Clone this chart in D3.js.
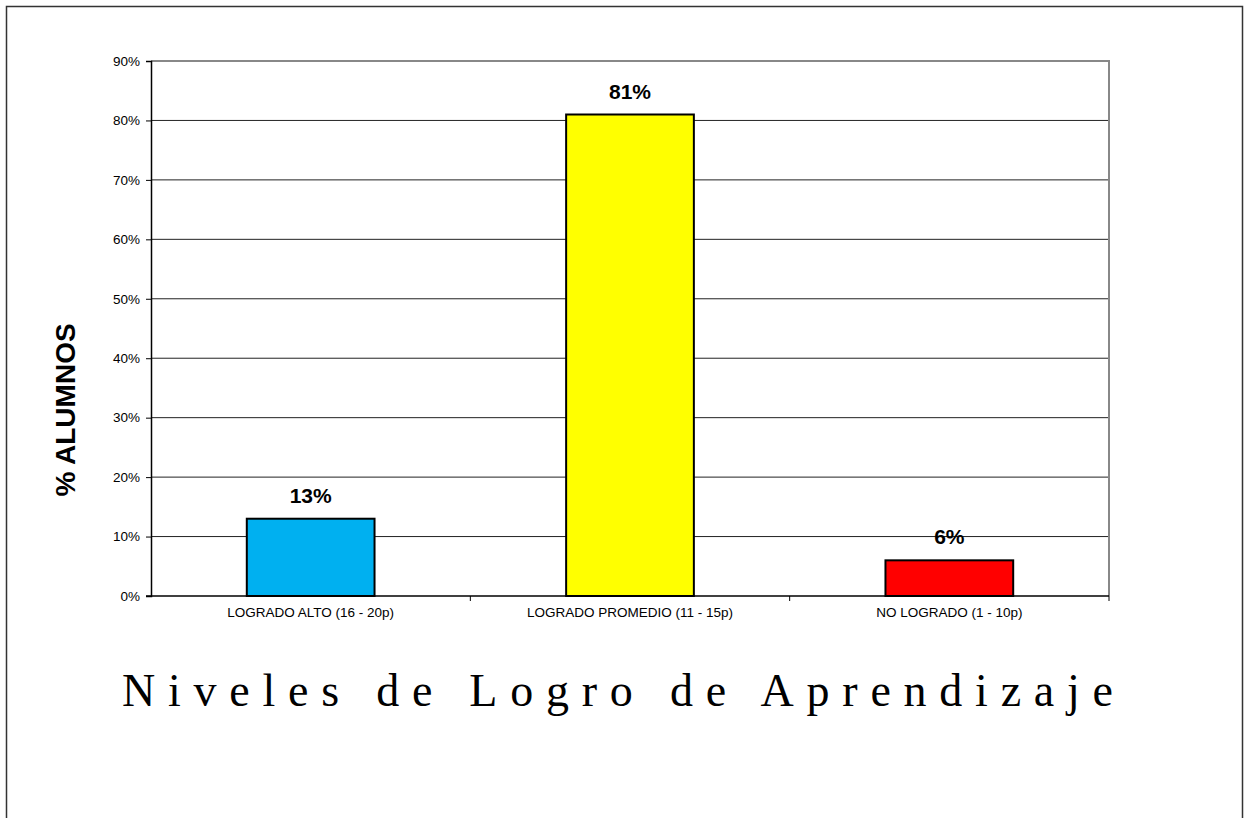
<!DOCTYPE html>
<html>
<head>
<meta charset="utf-8">
<script src="https://cdn.jsdelivr.net/npm/d3@7"></script>
<style>
  body { margin: 0; background: #fff; }
  svg { display: block; }
</style>
</head>
<body>
<svg width="1249" height="818"></svg>
<script>
// chart values
let categories = ["LOGRADO ALTO (16 - 20p)", "LOGRADO PROMEDIO (11 - 15p)", "NO LOGRADO (1 - 10p)"];
let values = [13, 81, 6];
let barColors = ["#00b0f0", "#ffff00", "#ff0000"];
let yTicks = [0, 10, 20, 30, 40, 50, 60, 70, 80, 90];

let svg = d3.select("svg");

// outer frame (no bottom edge visible)
svg.append("path")
    .attr("d", "M6.5,830 V6.5 H1242.5 V830")
    .attr("fill", "none")
    .attr("stroke", "#333")
    .attr("stroke-width", 1.5);

let plotLeft = 151, plotRight = 1109, plotTop = 61, plotBottom = 596;

let x = d3.scaleBand()
    .domain(categories)
    .range([plotLeft, plotRight])
    .paddingInner(0.6)
    .paddingOuter(0.3);

let y = d3.scaleLinear()
    .domain([0, 90])
    .range([plotBottom, plotTop]);

// gridlines
svg.append("g")
    .selectAll("line")
    .data(yTicks.filter(d => d > 0 && d < 90))
    .enter().append("line")
    .attr("x1", plotLeft).attr("x2", plotRight)
    .attr("y1", d => y(d)).attr("y2", d => y(d))
    .attr("stroke", "#222")
    .attr("stroke-width", 1);

// plot border top / right
svg.append("path")
    .attr("d", `M${plotLeft},${plotTop} H${plotRight} V${plotBottom}`)
    .attr("fill", "none")
    .attr("stroke", "#888")
    .attr("stroke-width", 2);

// bars
svg.append("g")
    .selectAll("rect")
    .data(values)
    .enter().append("rect")
    .attr("x", (d, i) => x(categories[i]))
    .attr("width", x.bandwidth())
    .attr("y", d => y(d))
    .attr("height", d => y(0) - y(d))
    .attr("fill", (d, i) => barColors[i])
    .attr("stroke", "#000")
    .attr("stroke-width", 2);

// value labels
svg.append("g")
    .selectAll("text")
    .data(values)
    .enter().append("text")
    .attr("x", (d, i) => x(categories[i]) + x.bandwidth() / 2)
    .attr("y", d => y(d) - 16)
    .attr("text-anchor", "middle")
    .style("font-family", "Arial, 'Liberation Sans', sans-serif")
    .style("font-weight", "bold")
    .style("font-size", "21px")
    .text(d => d + "%");

// y axis
let yAxis = svg.append("g")
    .attr("transform", `translate(${plotLeft},0)`)
    .call(d3.axisLeft(y).tickValues(yTicks).tickSize(5).tickPadding(6).tickFormat(d => d + "%"));
yAxis.select(".domain").attr("stroke", "#000").attr("stroke-width", 1.5);
yAxis.selectAll("line").attr("stroke", "#000");
yAxis.selectAll("text")
    .style("font-family", "Arial, 'Liberation Sans', sans-serif")
    .style("font-size", "13.5px")
    .attr("fill", "#000");

// x axis (ticks at band boundaries)
let xEdges = d3.scaleLinear().domain([0, categories.length]).range([plotLeft, plotRight]);
let xAxis = svg.append("g").attr("transform", `translate(0,${plotBottom})`);
xAxis.append("line")
    .attr("x1", plotLeft - 5).attr("x2", plotRight)
    .attr("stroke", "#000").attr("stroke-width", 1.5);
xAxis.selectAll(".tk")
    .data(d3.range(1, categories.length + 1))
    .enter().append("line")
    .attr("x1", d => xEdges(d)).attr("x2", d => xEdges(d))
    .attr("y1", 0).attr("y2", 5)
    .attr("stroke", "#000");
xAxis.selectAll("text")
    .data(categories)
    .enter().append("text")
    .attr("x", d => x(d) + x.bandwidth() / 2)
    .attr("y", 21)
    .attr("text-anchor", "middle")
    .style("font-family", "Arial, 'Liberation Sans', sans-serif")
    .style("font-size", "13.5px")
    .text(d => d);

// y axis title
svg.append("text")
    .attr("transform", "translate(75,410) rotate(-90)")
    .attr("text-anchor", "middle")
    .style("font-family", "Arial, 'Liberation Sans', sans-serif")
    .style("font-weight", "bold")
    .style("font-size", "28px")
    .text("% ALUMNOS");

// x axis title
svg.append("text")
    .attr("x", 122)
    .attr("y", 706)
    .attr("textLength", 991)
    .attr("lengthAdjust", "spacing")
    .style("font-family", "'Liberation Serif', 'Times New Roman', serif")
    .style("font-size", "46px")
    .text("Niveles de Logro de Aprendizaje");
</script>
</body>
</html>
